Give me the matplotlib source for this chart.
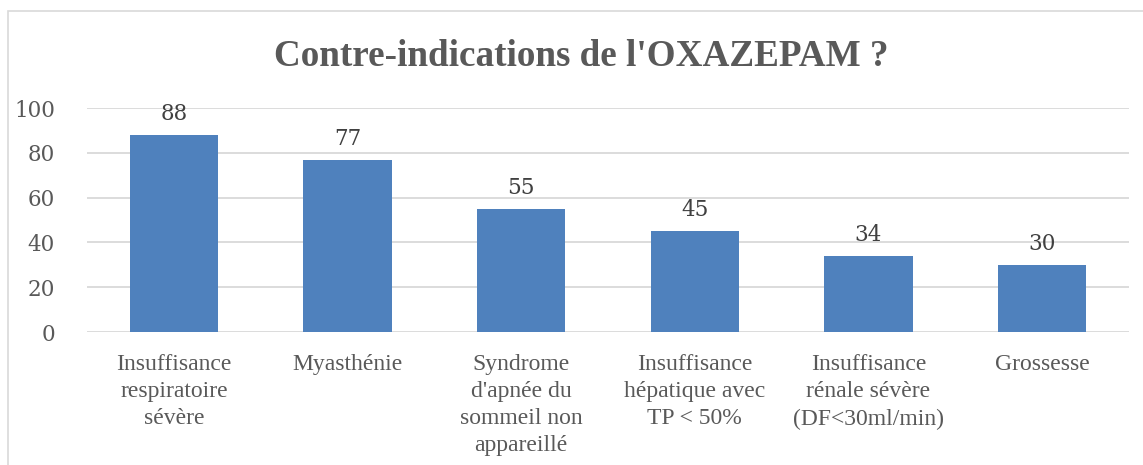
import matplotlib
matplotlib.use("Agg")
import matplotlib.pyplot as plt
from matplotlib.patches import Rectangle

categories = [
    "Insuffisance\nrespiratoire\nsévère",
    "Myasthénie",
    "Syndrome\nd'apnée du\nsommeil non\nappareillé",
    "Insuffisance\nhépatique avec\nTP < 50%",
    "Insuffisance\nrénale sévère\n(DF<30ml/min)",
    "Grossesse",
]
values = [88, 77, 55, 45, 34, 30]
yticks = [0, 20, 40, 60, 80, 100]
title = "Contre-indications de l'OXAZEPAM ?"

W, H = 1143, 465
fig = plt.figure(figsize=(W / 100, H / 100), dpi=100)
fig.patch.set_facecolor("white")

# outer chart frame (extends beyond the image on right/bottom)
fig.patches.append(Rectangle((8 / W, -0.1), 1.2, (H - 11) / H + 0.1,
                             transform=fig.transFigure, fill=False,
                             edgecolor="#D9D9D9", linewidth=1.2))

left, right = 87 / W, 1129 / W
bottom, top = 1 - 332 / H, 1 - 108 / H
ax = fig.add_axes([left, bottom, right - left, top - bottom])

x = list(range(len(categories)))
ax.bar(x, values, width=0.507, color="#4F81BD", zorder=3)
ax.set_xlim(-0.5, len(categories) - 0.5)
ax.set_ylim(0, 100)
ax.set_yticks(yticks)
ax.set_yticklabels([str(v) for v in yticks], fontsize=15.5,
                   family="DejaVu Serif", color="#595959")
ax.grid(axis="y", color="#D9D9D9", linewidth=1.3, zorder=0)
for s in ax.spines.values():
    s.set_visible(False)
ax.tick_params(axis="y", length=0, pad=23)
ax.tick_params(axis="x", length=0, pad=16)
ax.set_xticks(x)
ax.set_xticklabels(categories, fontsize=17, family="Liberation Serif",
                   color="#595959", linespacing=1.38, va="top")

for xi, v in zip(x, values):
    ax.annotate(str(v), (xi, v), xytext=(0, 7), textcoords="offset points",
                ha="center", va="bottom", fontsize=15.5, family="DejaVu Serif",
                color="#404040")

fig.text(581 / W, 1 - 56 / H, title, ha="center", va="center",
         fontsize=26.7, fontweight="bold", family="Liberation Serif",
         color="#595959")

fig.savefig("out.png", dpi=100, facecolor="white")
